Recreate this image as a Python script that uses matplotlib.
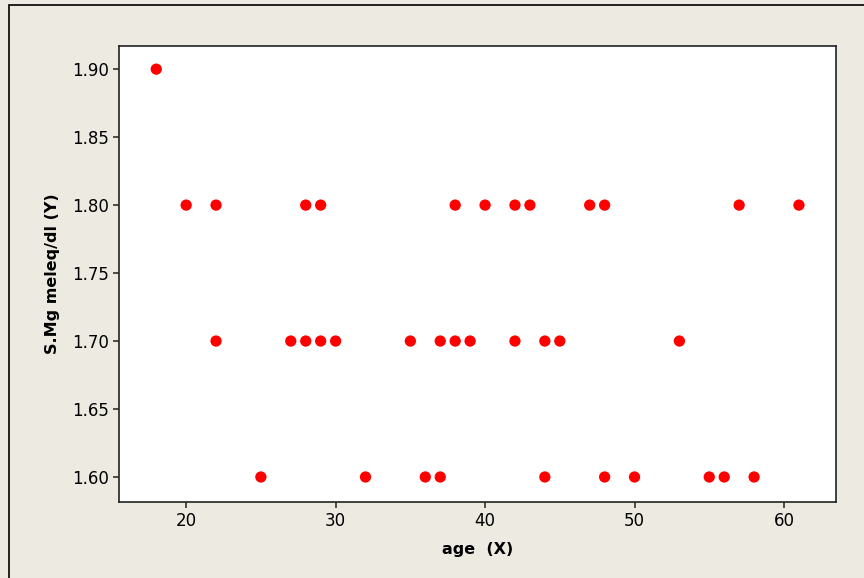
import matplotlib.pyplot as plt
from matplotlib.patches import Rectangle

# age (X) and S.Mg (Y)
age = [18,
       20, 22, 28, 29, 38, 40, 42, 43, 47, 48, 57, 61,
       22, 27, 28, 29, 30, 35, 37, 38, 39, 42, 44, 45, 53,
       25, 32, 36, 37, 44, 48, 50, 55, 56, 58]
smg = [1.90,
       1.80, 1.80, 1.80, 1.80, 1.80, 1.80, 1.80, 1.80, 1.80, 1.80, 1.80, 1.80,
       1.70, 1.70, 1.70, 1.70, 1.70, 1.70, 1.70, 1.70, 1.70, 1.70, 1.70, 1.70, 1.70,
       1.60, 1.60, 1.60, 1.60, 1.60, 1.60, 1.60, 1.60, 1.60, 1.60]

xticks = [20, 30, 40, 50, 60]
yticks = [1.60, 1.65, 1.70, 1.75, 1.80, 1.85, 1.90]

bg = '#EDEAE1'
fig = plt.figure(figsize=(8.64, 5.78), dpi=100, facecolor=bg)
ax = fig.add_axes([119.5/864, 1 - 502/578, (836 - 119.5)/864, (502 - 45.5)/578])
ax.set_facecolor('white')

ax.scatter(age, smg, s=66, color='#FF0000', edgecolors='none', zorder=3)

ax.set_xlim(15.54, 63.48)
ax.set_ylim(1.5816, 1.9174)
ax.set_xticks(xticks)
ax.set_yticks(yticks)
ax.set_yticklabels(['%.2f' % v for v in yticks])
ax.tick_params(axis='both', direction='out', length=4, width=1.1, color='#222222',
               labelsize=12, pad=3.5)

for sp in ax.spines.values():
    sp.set_linewidth(1.2)
    sp.set_color('#222222')

ax.set_xlabel('age  (X)', fontsize=11.5, fontweight='bold', labelpad=8)
ax.set_ylabel('S.Mg meleq/dl (Y)', fontsize=11.5, fontweight='bold', labelpad=9)

# outer frame of the graph window
fig.patches.append(Rectangle((9/864, -0.05), 1.0, 1 - 5/578 + 0.05, transform=fig.transFigure,
                             fill=False, edgecolor='#111111', linewidth=1.3))

fig.savefig('out.png', dpi=100, facecolor=bg)
